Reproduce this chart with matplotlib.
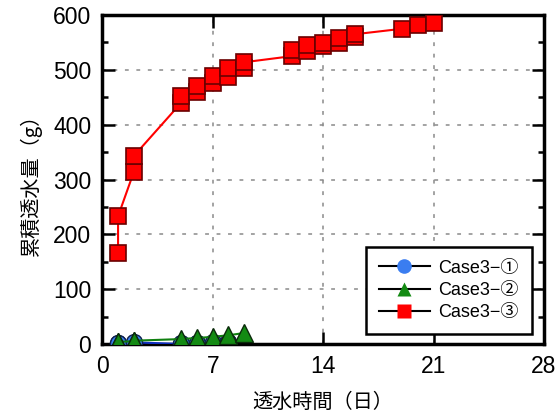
import matplotlib
matplotlib.use('Agg')
import matplotlib.pyplot as plt
from matplotlib.lines import Line2D
from matplotlib.ticker import MultipleLocator

plt.rcParams['font.family'] = ['Liberation Sans', 'Noto Sans CJK JP', 'DejaVu Sans']

# Case3-1 (blue)
days_1 = [1, 1, 2, 2, 5, 5, 6, 6, 7, 7, 8, 8]
water_1 = [1, 2, 2, 3, 0, 1, 1, 2, 2, 3, 3, 4]

# Case3-2 (green)
days_2 = [1, 1, 2, 2, 5, 6, 7, 8, 9]
water_2 = [3, 4, 5, 6, 9, 11, 13, 16, 20]

# Case3-3 (red)
days_3 = [1, 1, 2, 2, 5, 5, 6, 6, 7, 7, 8, 8, 9, 9,
          12, 12, 13, 13, 14, 14, 15, 15, 16, 16, 19, 20, 21]
water_3 = [166, 233, 314, 343, 440, 452, 460, 471, 476, 489, 487, 503, 504, 514,
           525, 536, 535, 546, 544, 549, 549, 558, 560, 565, 575, 581, 586]

labels = ['Case3\u2212\u2460', 'Case3\u2212\u2461', 'Case3\u2212\u2462']
x_ticks = [0, 7, 14, 21, 28]

fig = plt.figure(figsize=(5.59, 4.19), dpi=100)
ax = fig.add_axes([0.183, 0.179, 0.790, 0.785])

ms = 11.5
ax.plot(days_3, water_3, color='#ff0000', lw=1.5, marker='s', ms=ms,
        mfc='#ff0000', mec='#6a0000', mew=1.2, zorder=3)
ax.plot(days_1, water_1, color='#1030c0', lw=1.5, marker='o', ms=ms,
        mfc='#3a7df0', mec='#102050', mew=1.0, zorder=4)
ax.plot(days_2, water_2, color='#108010', lw=1.5, marker='^', ms=ms + 1,
        mfc='#138a13', mec='#0a2a0a', mew=1.0, zorder=5)

ax.set_xlim(0, 28)
ax.set_ylim(0, 600)
ax.set_xticks(x_ticks)
ax.yaxis.set_major_locator(MultipleLocator(100))
ax.yaxis.set_minor_locator(MultipleLocator(50))
ax.grid(True, which='major', color='#8a8a8a', ls=(0, (2.5, 5)), lw=1.1)
ax.tick_params(which='both', direction='in', top=True, right=True,
               labelsize=16.5, width=1.8, pad=8)
ax.tick_params(which='major', length=9)
ax.tick_params(which='minor', length=4)
for s in ax.spines.values():
    s.set_linewidth(2.5)

ax.set_xlabel('透水時間（日）', fontsize=14.5, family=['Noto Sans CJK JP'], labelpad=10)
ax.set_ylabel('累積透水量（g）', fontsize=14.5, family=['Noto Sans CJK JP'], labelpad=8)

handles = [
    Line2D([], [], color='black', lw=1.5, marker='o', ms=10.5, mfc='#3a7df0', mec='none'),
    Line2D([], [], color='black', lw=1.5, marker='^', ms=10.5, mfc='#138a13', mec='none'),
    Line2D([], [], color='black', lw=1.5, marker='s', ms=10.5, mfc='#ff0000', mec='none'),
]
leg = ax.legend(handles, labels, loc='lower right', fontsize=13,
                bbox_to_anchor=(0.972, 0.03),
                fancybox=False, edgecolor='black', framealpha=1,
                borderaxespad=0.0, borderpad=0.7, handlelength=2.8,
                handletextpad=0.5, labelspacing=0.3)
leg.get_frame().set_linewidth(1.8)
leg.set_zorder(10)

fig.savefig('out.png', dpi=100)
